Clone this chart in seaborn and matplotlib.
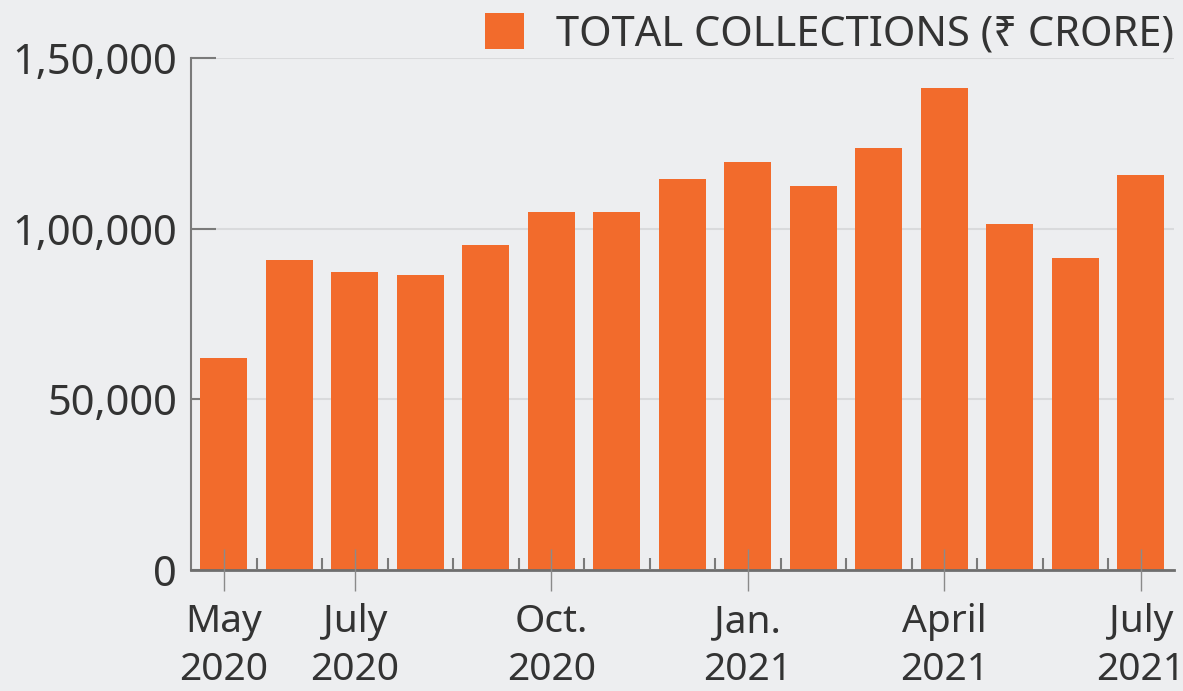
import pandas as pd
import matplotlib.pyplot as plt
import seaborn as sns
from matplotlib.ticker import FixedLocator, FixedFormatter

# Monthly GST collections
months = ['May 2020', 'Jun 2020', 'Jul 2020', 'Aug 2020', 'Sep 2020', 'Oct 2020',
          'Nov 2020', 'Dec 2020', 'Jan 2021', 'Feb 2021', 'Mar 2021', 'Apr 2021',
          'May 2021', 'Jun 2021', 'Jul 2021']
collections = [62000, 90900, 87400, 86400, 95300, 105000, 104900, 114500,
               119500, 112500, 123500, 141300, 101500, 91500, 115800]

x_label_pos = [0, 2, 5, 8, 11, 14]
x_labels = ['May\n2020', 'July\n2020', 'Oct.\n2020', 'Jan.\n2021', 'April\n2021', 'July\n2021']
y_ticks = [0, 50000, 100000, 150000]
y_labels = ['0', '50,000', '1,00,000', '1,50,000']
legend_label = 'TOTAL COLLECTIONS (₹ CRORE)'

df = pd.DataFrame({'month': months, 'collections': collections})

sns.set_style('white')
plt.rcParams['font.family'] = ['Noto Sans', 'DejaVu Sans']

bg = '#edeef0'
bar_color = '#f26b2c'
text_color = '#333333'

fig = plt.figure(figsize=(11.83, 6.91), dpi=100, facecolor=bg)
ax = fig.add_axes([0.1615, 0.1751, 0.8305, 0.741], facecolor=bg)

sns.barplot(data=df, x='month', y='collections', color=bar_color, width=0.72,
            saturation=1, linewidth=0, label=legend_label, ax=ax, zorder=3)

ax.set_xlim(-0.5, len(months) - 0.5)
ax.set_ylim(0, 150000)

# y axis
ax.yaxis.set_major_locator(FixedLocator(y_ticks))
ax.yaxis.set_major_formatter(FixedFormatter(y_labels))
ax.tick_params(axis='y', left=True, direction='in', length=18, width=1.5,
               color='#7a7a7a', pad=10, labelsize=30, labelcolor=text_color)
ax.grid(axis='y', color='#d9dadc', linewidth=1.5, zorder=0)

# x axis: labelled months plus small ticks between bars
ax.xaxis.set_major_locator(FixedLocator(x_label_pos))
ax.xaxis.set_major_formatter(FixedFormatter(x_labels))
ax.xaxis.set_minor_locator(FixedLocator([i + 0.5 for i in range(len(months) - 1)]))
ax.tick_params(axis='x', which='major', bottom=True, direction='inout', length=30,
               width=1, color='#8a8a8a', pad=9, labelsize=28, labelcolor=text_color)
ax.tick_params(axis='x', which='minor', bottom=True, direction='in', length=9,
               width=1.5, color='#7a7a7a')
ax.xaxis.set_zorder(4)
for lbl in ax.get_xticklabels():
    lbl.set_linespacing(1.33)

ax.set_xlabel('')
ax.set_ylabel('')

for side in ['top', 'right']:
    ax.spines[side].set_visible(False)
ax.spines['left'].set_color('#7a7a7a')
ax.spines['left'].set_linewidth(1.5)
ax.spines['bottom'].set_color('#6e6e6e')
ax.spines['bottom'].set_linewidth(2)
ax.spines['bottom'].set_zorder(4)

leg = ax.legend(loc='center right', bbox_to_anchor=(1.0, 1.046), frameon=False,
                fontsize=30, handlelength=0.95, handleheight=0.95, handletextpad=0.75,
                borderaxespad=0, borderpad=0)
for t in leg.get_texts():
    t.set_color(text_color)

plt.savefig('out.png', dpi=100, facecolor=bg)
